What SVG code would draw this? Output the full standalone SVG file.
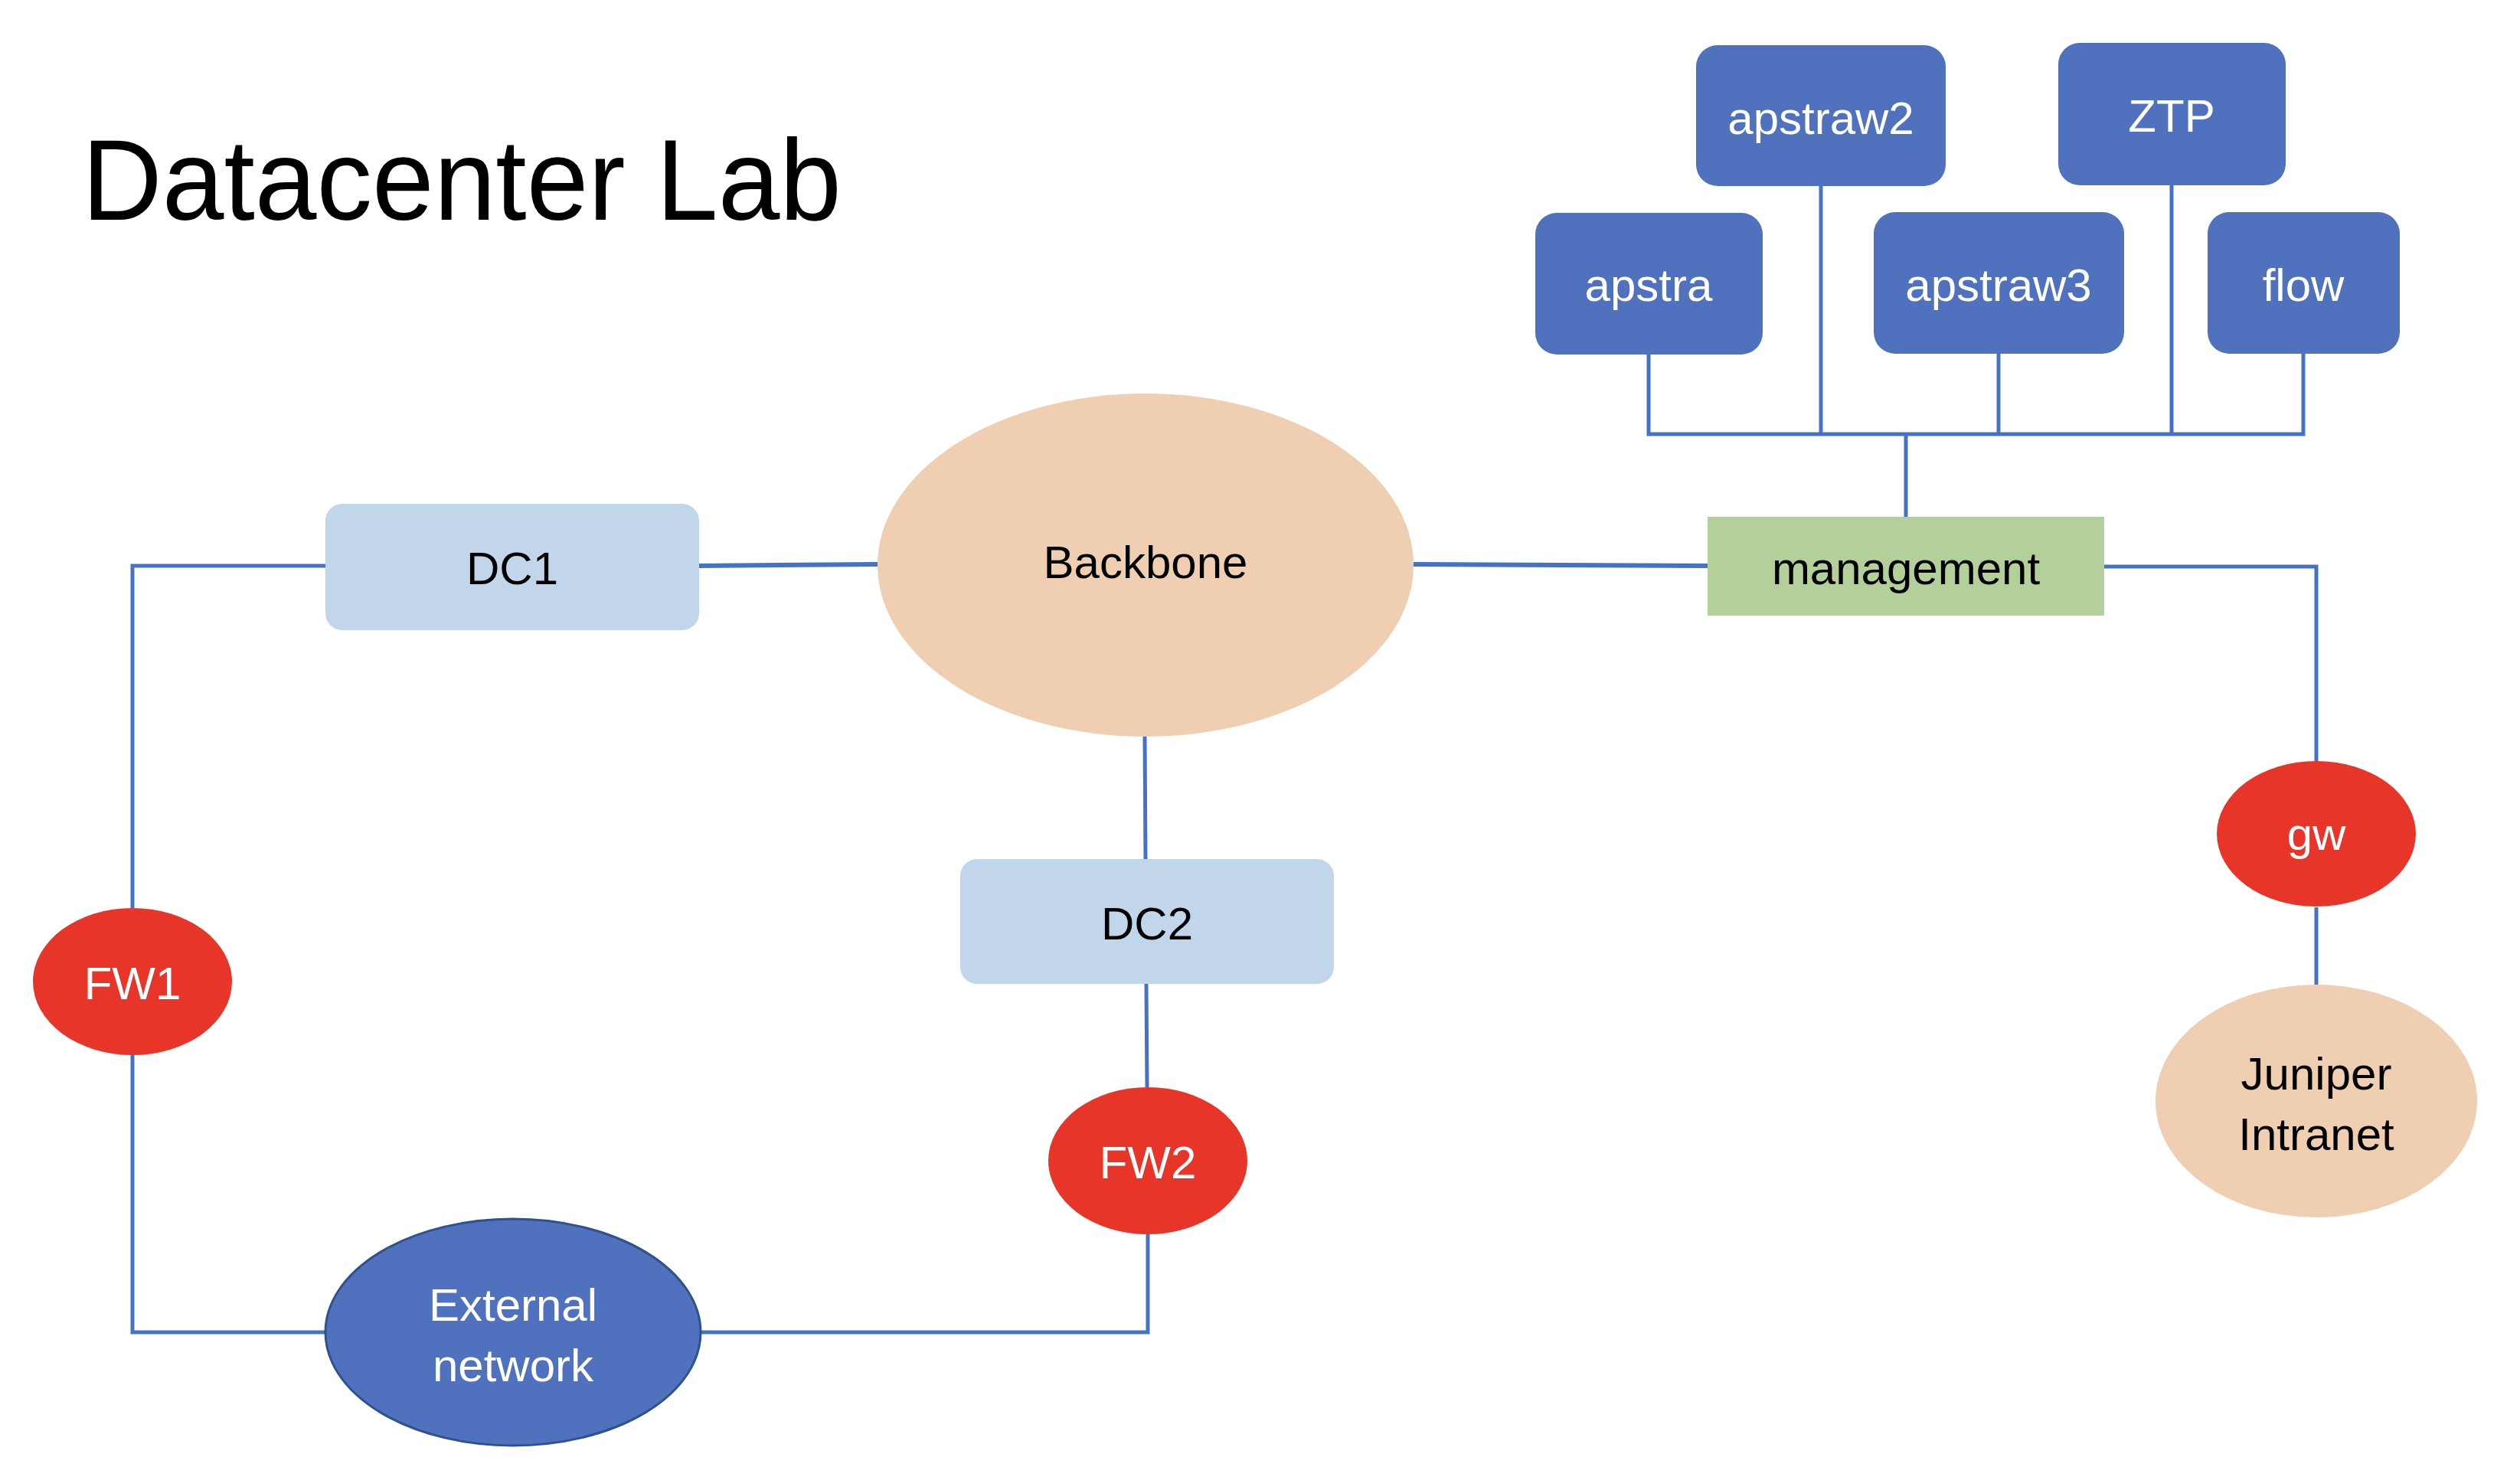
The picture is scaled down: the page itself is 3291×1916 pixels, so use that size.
<svg xmlns="http://www.w3.org/2000/svg" width="3291" height="1916" viewBox="0 0 3291 1916">
<style>
.bg{fill:#ffffff}
.lbl{font-family:"Liberation Sans",Arial,sans-serif;font-size:60px;text-anchor:middle}
.w{fill:#ffffff}
.k{fill:#000000}
.srv{fill:#4F71BE}
.dc{fill:#C1D6EB}
.peach{fill:#F0CEB1}
.red{fill:#E8352A}
.mgmt{fill:#B3D09A}
.ext{fill:#4F71BE;stroke:#2F528F;stroke-width:3}
.con{fill:none;stroke:#4472C4;stroke-width:5;stroke-linejoin:miter}
.thick{stroke-width:6}
</style>
<rect class="bg" x="0" y="0" width="3291" height="1916"/>
<text x="107" y="287" font-family="Liberation Sans,Arial,sans-serif" font-size="150" fill="#000" textLength="992" lengthAdjust="spacingAndGlyphs">Datacenter Lab</text>
<g id="connectors">
<polyline class="con" points="425,739 173,739 173,1186"/>
<polyline class="con" points="173,1378 173,1740 425,1740"/>
<polyline class="con" points="914,1740 1499,1740 1499,1612"/>
<line class="con" x1="1498" y1="1420" x2="1497" y2="1285"/>
<line class="con" x1="1496" y1="1122" x2="1495" y2="961"/>
<line class="con thick" x1="913" y1="739" x2="1146" y2="737"/>
<line class="con thick" x1="1846" y1="737" x2="2230" y2="739"/>
<polyline class="con" points="2748,740 3025,740 3025,994"/>
<line class="con" x1="3025" y1="1185" x2="3025" y2="1287"/>
<line class="con" x1="2489" y1="675" x2="2489" y2="567"/>
<polyline class="con" points="2153,463 2153,567 3008,567 3008,462"/>
<line class="con" x1="2378" y1="243" x2="2378" y2="567"/>
<line class="con" x1="2610" y1="462" x2="2610" y2="567"/>
<line class="con" x1="2836" y1="242" x2="2836" y2="567"/>
</g>
<g id="apstraw2"><rect class="srv" x="2215" y="59" width="326" height="184" rx="28"/><text class="lbl w" x="2378" y="175">apstraw2</text></g>
<g id="ZTP"><rect class="srv" x="2688" y="56" width="297" height="186" rx="28"/><text class="lbl w" x="2836" y="172">ZTP</text></g>
<g id="apstra"><rect class="srv" x="2005" y="278" width="297" height="185" rx="28"/><text class="lbl w" x="2153" y="393">apstra</text></g>
<g id="apstraw3"><rect class="srv" x="2447" y="277" width="327" height="185" rx="28"/><text class="lbl w" x="2610" y="393">apstraw3</text></g>
<g id="flow"><rect class="srv" x="2883" y="277" width="251" height="185" rx="28"/><text class="lbl w" x="3008" y="393">flow</text></g>
<g id="management"><rect class="mgmt" x="2230" y="675" width="518" height="129"/><text class="lbl k" x="2489" y="763">management</text></g>
<g id="DC1"><rect class="dc" x="425" y="658" width="488" height="165" rx="22"/><text class="lbl k" x="669" y="763">DC1</text></g>
<g id="Backbone"><ellipse class="peach" cx="1496" cy="738" rx="350" ry="224"/><text class="lbl k" x="1496" y="755">Backbone</text></g>
<g id="DC2"><rect class="dc" x="1254" y="1122" width="488" height="163" rx="22"/><text class="lbl k" x="1498" y="1227">DC2</text></g>
<g id="FW1"><ellipse class="red" cx="173" cy="1282" rx="130" ry="96"/><text class="lbl w" x="173" y="1305">FW1</text></g>
<g id="FW2"><ellipse class="red" cx="1499" cy="1516" rx="130" ry="96"/><text class="lbl w" x="1499" y="1539">FW2</text></g>
<g id="External network"><ellipse class="ext" cx="670" cy="1740" rx="245" ry="148"/><text class="lbl w" x="670" y="1725">External</text><text class="lbl w" x="670" y="1804">network</text></g>
<g id="gw"><ellipse class="red" cx="3025" cy="1089" rx="130" ry="95"/><text class="lbl w" x="3025" y="1110">gw</text></g>
<g id="Juniper Intranet"><ellipse class="peach" cx="3025" cy="1438" rx="210" ry="152"/><text class="lbl k" x="3025" y="1423">Juniper</text><text class="lbl k" x="3025" y="1502">Intranet</text></g>
</svg>
